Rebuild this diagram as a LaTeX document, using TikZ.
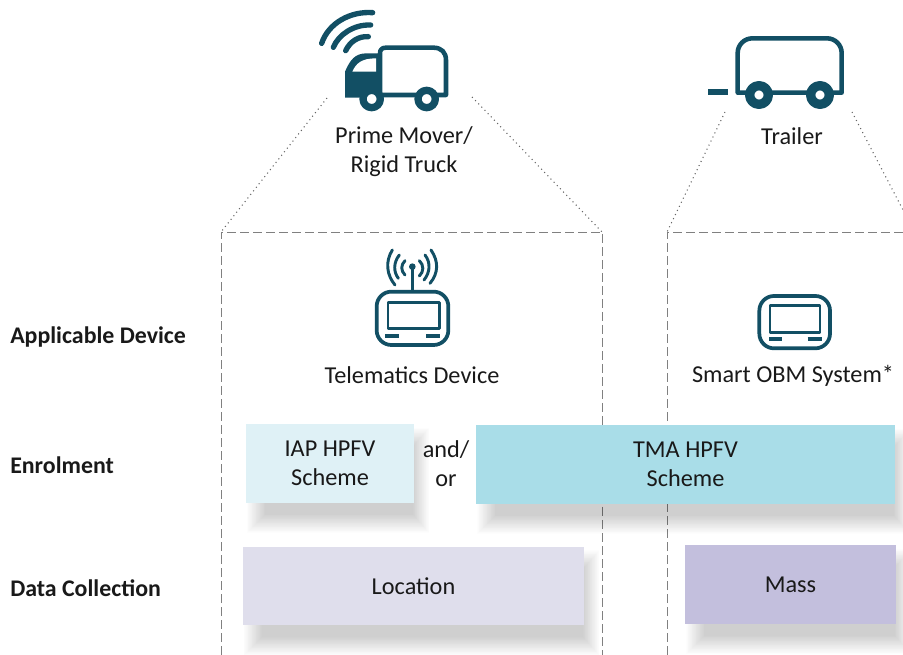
\documentclass[tikz,border=0pt]{standalone}
\usepackage{fontspec}
\setmainfont{Carlito}
\usetikzlibrary{backgrounds}
\definecolor{icondark}{HTML}{124F64}
\definecolor{iapblue}{HTML}{DFF1F6}
\definecolor{tmablue}{HTML}{A9DDE8}
\definecolor{locationlilac}{HTML}{DFDEEC}
\definecolor{masslilac}{HTML}{C3BFDD}
\tikzset{
  lbl/.style={font=\fontsize{18.2}{21.75}\selectfont,align=center,inner sep=0pt,text=black!90},
  rowlbl/.style={lbl,font=\fontsize{17.9}{21.75}\selectfont\bfseries,anchor=west},
  panel/.style={lbl,minimum width=#1,minimum height=59pt},
  icon/.style={draw=icondark,line width=3.4pt,line cap=butt,line join=round},
  wave/.style={icon,line width=2.2pt,line cap=round},
  arc/.style={icon,line width=4pt,line cap=round},
  hood/.style={line width=.8pt,black!60,dash pattern=on .8pt off 2.6pt},
  frame/.style={black!50,line width=.7pt,dash pattern=on 6.75pt off 3pt},
}
\newcommand{\wheel}[3]{\draw[icon,fill=white,line width=#3] (#1) circle (#2);}
\begin{document}
\begin{tikzpicture}[x=.75pt,y=-.75pt]
  \useasboundingbox (0,0) rectangle (903,655);
  % row labels
  \node[rowlbl] (applicable) at (10,337) {Applicable Device};
  \node[rowlbl] (enrolment) at (10,465) {Enrolment};
  \node[rowlbl] (collection) at (10,588) {Data Collection};
  % vehicle and device labels
  \node[lbl] (prime) at (404,152) {Prime Mover/\\Rigid Truck};
  \node[lbl] (trailer) at (792,136) {Trailer};
  \node[lbl] (telematics) at (412,375) {Telematics Device};
  \node[lbl] (obm) at (793,376) {Smart OBM System*};
  % coloured panels
  \node[panel=126pt,fill=iapblue] (iap) at (330,463.5) {IAP HPFV\\Scheme};
  \node[panel=314pt,fill=tmablue] (tma) at (685.5,464.5) {TMA HPFV\\Scheme};
  \node[panel=256pt,fill=locationlilac] (location) at (413.5,586) {Location};
  \node[panel=158pt,fill=masslilac] (mass) at (790.5,584.5) {Mass};
  \node[lbl] (andor) at (446,463.5) {and/\\or};
  % frames and hoods
  \coordinate (ftl) at (221,232);
  \coordinate (ftr) at (602,232);
  \coordinate (gtl) at (667,232);
  \begin{scope}[on background layer]
    \draw[frame] (221,655) -- (ftl) -- (ftr) -- (602,655);
    \draw[frame] (667,655) -- (gtl) -- (903,232);
    \foreach \b in {iap,tma,location,mass}
      \foreach \g in {0,...,23}
        \fill[black,opacity=.006] ([shift={(1+.8*\g,4+.8*\g)}]\b.north west) rectangle ([shift={(15-.7*\g,30-.8*\g)}]\b.south east);
  \end{scope}
  \coordinate (pl) at (327,98);
  \coordinate (pr) at (472,97);
  \coordinate (tl) at (725,112);
  \coordinate (tr) at (852,112);
  \coordinate (trend) at (903,210);
  \draw[hood] (pl) -- (ftl);
  \draw[hood] (pr) -- (ftr);
  \draw[hood] (tl) -- (gtl);
  \draw[hood] (tr) -- (trend);
  % truck
  \begin{scope}[shift={(300,0)},scale=1/3]
    \draw[arc] (65,130) .. controls (85,70) and (150,33) .. (218,38);
    \draw[arc] (100,142) .. controls (115,105) and (160,73) .. (212,75);
    \draw[arc] (137,152) .. controls (150,125) and (175,108) .. (205,110);
    \draw[icon] (240,285) -- (240,160) .. controls (240,150) and (245,143) .. (258,143) -- (400,143) .. controls (425,143) and (438,158) .. (438,180) -- (438,285) -- cycle;
    \fill[icondark] (135,293) -- (135,215) .. controls (150,180) and (165,160) .. (200,160) -- (240,160) -- (240,293) -- cycle;
    \fill[white] (157,215) .. controls (168,190) and (185,175) .. (228,175) -- (228,215) -- cycle;
    \wheel{215,297}{26}{5.5pt}
    \wheel{380,297}{26}{5.5pt}
  \end{scope}
  % trailer
  \begin{scope}[shift={(690,20)},scale=1/3]
    \draw[icon] (143,218) [rounded corners=11pt] -- (143,55) -- (455,55) [sharp corners] -- (455,218) -- cycle;
    \draw[icon,line width=4.4pt] (55,215) -- (115,215);
    \wheel{207,225}{28}{7pt}
    \wheel{390,225}{28}{7pt}
  \end{scope}
  % telematics device
  \begin{scope}[shift={(360,240)},scale=1/3]
    \draw[icon,line width=2.8pt,rounded corners=11pt] (50,155) rectangle (265,315);
    \draw[icon,line width=2pt] (84,187) rectangle (238,265);
    \draw[icon,line width=3pt] (75,288) -- (118,288) (198,288) -- (240,288);
    \draw[icon,line width=2pt] (157,155) -- (157,80);
    \fill[icondark] (157,80) circle (10);
    \draw[wave] (135,62) .. controls (122,75) and (122,92) .. (135,105);
    \draw[wave] (118,45) .. controls (100,68) and (100,95) .. (115,115);
    \draw[wave] (97,30) .. controls (75,65) and (80,105) .. (105,135);
    \draw[wave] (178,62) .. controls (192,75) and (192,95) .. (178,108);
    \draw[wave] (195,45) .. controls (213,68) and (210,98) .. (192,120);
    \draw[wave] (213,30) .. controls (237,65) and (235,100) .. (210,130);
  \end{scope}
  % smart obm unit
  \begin{scope}[shift={(740,280)},scale=1/3]
    \draw[icon,line width=2.8pt,rounded corners=11pt] (58,48) rectangle (270,205);
    \draw[icon,line width=2pt] (90,76) rectangle (240,158);
    \draw[icon,line width=3pt] (87,178) -- (127,178) (203,178) -- (245,178);
  \end{scope}
\end{tikzpicture}
\end{document}
